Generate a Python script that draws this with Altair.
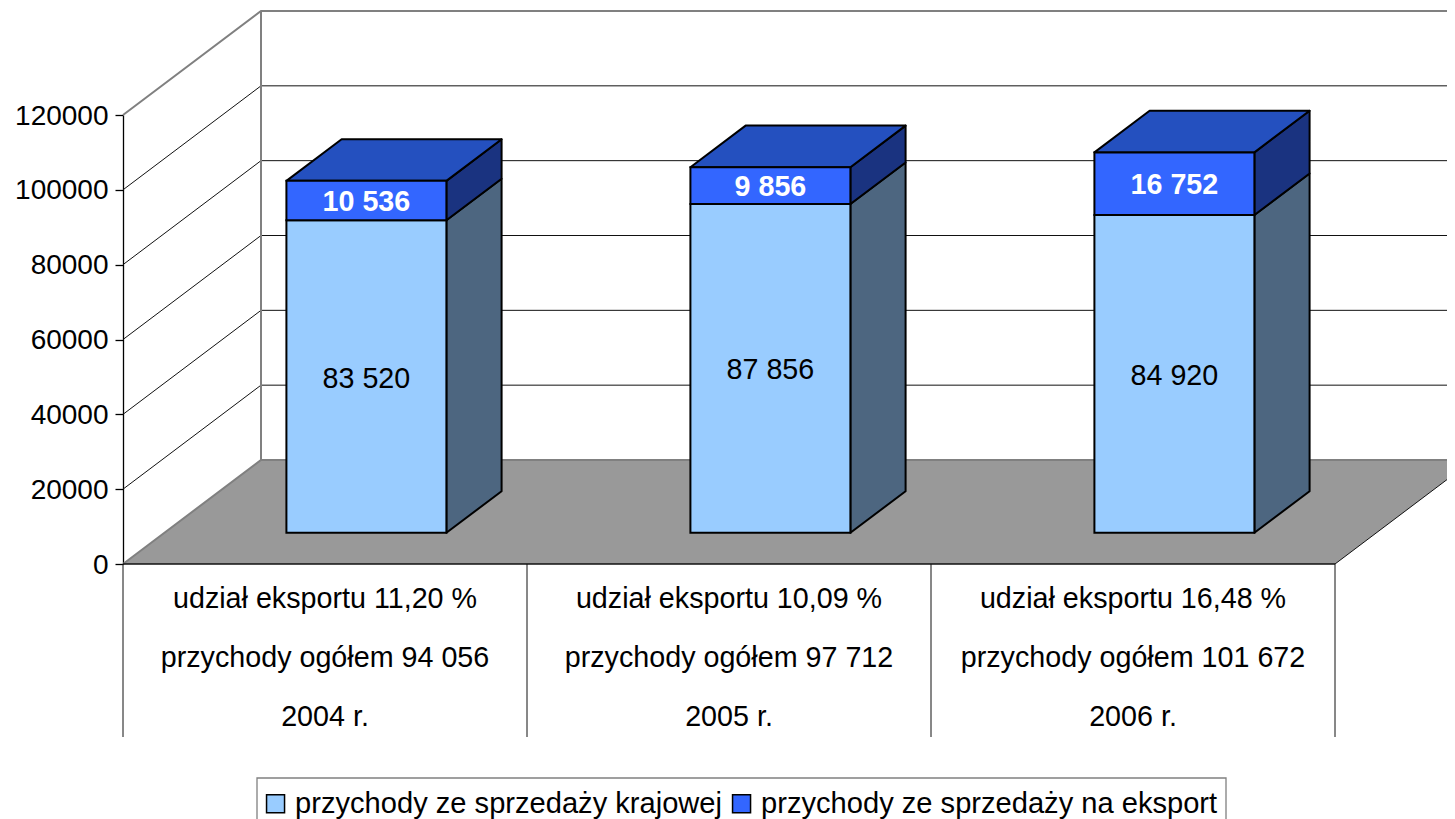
import altair as alt
import pandas as pd

YEARS = ["2004 r.", "2005 r.", "2006 r."]
TOTALS = ["przychody ogółem 94 056", "przychody ogółem 97 712", "przychody ogółem 101 672"]
SHARES = ["udział eksportu 11,20 %", "udział eksportu 10,09 %", "udział eksportu 16,48 %"]
DOMESTIC = [83520, 87856, 84920]
EXPORT = [10536, 9856, 16752]
DOMESTIC_LABELS = ["83 520", "87 856", "84 920"]
EXPORT_LABELS = ["10 536", "9 856", "16 752"]
SERIES = ["przychody ze sprzedaży krajowej", "przychody ze sprzedaży na eksport"]
COLORS = ["#99ccff", "#3366ff"]
TICKS = [0, 20000, 40000, 60000, 80000, 100000, 120000]

FONT = "Liberation Sans"
FS = 28.7
W, H = 1212, 449
DX = 138 / 404          # depth shift, in category units
DY = 104 * 120000 / 449 # depth shift, in value units
D0, D1 = 0.3, 0.7       # bars occupy this slice of the depth
BAR = 0.198             # half bar width
XS = alt.Scale(domain=[0, 3], nice=False, zero=False)
YS = alt.Scale(domain=[0, 120000], nice=False, zero=False)
X = lambda f="x": alt.X(f"{f}:Q", scale=XS, axis=None)
Y = lambda f="y": alt.Y(f"{f}:Q", scale=YS, stack=None, title=None)


def line(rows, color, width):
    df = pd.DataFrame(rows, columns=["id", "x", "y"])
    return alt.Chart(df).mark_line(color=color, strokeWidth=width, clip=False).encode(
        x=X(), y=Y(), detail="id:N", order="x:Q")


# axis (left, drawn through the value scale) comes first so that its settings win
axis = alt.Chart(pd.DataFrame({"y": TICKS})).mark_point(opacity=0).encode(
    y=alt.Y("y:Q", scale=YS, title=None, axis=alt.Axis(
        values=TICKS, format="d", title=None, grid=False, domainColor="black", tickColor="black",
        tickSize=8, labelFontSize=28, labelFont=FONT, labelColor="black", labelPadding=7, labelOffset=1,
        domainWidth=1.3, tickWidth=1.3)))

# floor
floor = alt.Chart(pd.DataFrame({
    "y": [0, DY], "x": [0, DX], "x2": [3, 3 + DX]
})).mark_area(orient="horizontal", fill="#999999").encode(y=Y(), x=X(), x2="x2:Q")

# walls and grid
grid_rows = []
for v in TICKS[1:-1]:
    grid_rows += [(f"s{v}", 0, v), (f"s{v}", DX, v + DY), (f"s{v}", DX, v + DY), (f"s{v}", 3 + DX, v + DY)]
grid = line(grid_rows, "#111111", 1)
wall = line([("a", 0, 120000), ("a", DX, 120000 + DY), ("a", 3 + DX, 120000 + DY),
             ("b", 0, 0), ("b", DX, DY), ("b", 3 + DX, DY)], "#808080", 2)
back = alt.Chart(pd.DataFrame({"x": [DX], "y": [DY], "y2": [120000 + DY]})).mark_rule(
    color="#808080", strokeWidth=2).encode(x=X(), y=Y(), y2="y2:Q")
right_edge = line([("r", 3, 0), ("r", 3 + DX, DY)], "#111111", 1)

# bars
side, top, front, labels_d, labels_e = {0: [], 1: []}, [], [], [], []
for i in range(3):
    xl, xr = i + 0.5 - BAR, i + 0.5 + BAR
    a, b, c = 0, DOMESTIC[i], DOMESTIC[i] + EXPORT[i]
    for s, (lo, hi) in enumerate([(a, b), (b, c)]):
        for d in (D0, D1):
            side[s].append({"id": i, "x": xr + d * DX, "y": lo + d * DY, "y2": hi + d * DY})
        front.append({"x": xl + D0 * DX, "x2": xr + D0 * DX, "y": lo + D0 * DY, "y2": hi + D0 * DY, "series": SERIES[s]})
    for d in (D0, D1):
        top.append({"id": i, "y": c + d * DY, "x": xl + d * DX, "x2": xr + d * DX})
    labels_d.append({"x": i + 0.5 + D0 * DX, "y": (a + b) / 2 + D0 * DY, "t": DOMESTIC_LABELS[i]})
    labels_e.append({"x": i + 0.5 + D0 * DX, "y": (b + c) / 2 + D0 * DY, "t": EXPORT_LABELS[i]})


def side_layer(rows, fill):
    return alt.Chart(pd.DataFrame(rows)).mark_area(
        orient="vertical", fill=fill, stroke="black", strokeWidth=2, strokeJoin="round"
    ).encode(x=X(), y=Y(), y2="y2:Q", detail="id:N")


side_d = side_layer(side[0], "#4d6680")
side_e = side_layer(side[1], "#1a3380")
top_f = alt.Chart(pd.DataFrame(top)).mark_area(
    orient="horizontal", fill="#2450bf", stroke="black", strokeWidth=2, strokeJoin="round"
).encode(y=Y(), x=X(), x2="x2:Q", detail="id:N")

front_f = alt.Chart(pd.DataFrame(front)).mark_rect(stroke="black", strokeWidth=2).encode(
    x=X(), x2="x2:Q", y=Y(), y2="y2:Q",
    fill=alt.Fill("series:N", scale=alt.Scale(domain=SERIES, range=COLORS), legend=alt.Legend(
        title=None, orient="none", legendX=138, legendY=674, direction="horizontal", columns=2,
        labelFont=FONT, labelFontSize=29.1, labelColor="black", symbolType="square", symbolSize=324,
        symbolStrokeColor="black", symbolStrokeWidth=1.5, symbolOpacity=1, labelOffset=5, columnPadding=5,
        padding=0, labelLimit=600)))

# frame around the legend (its lower edge lies past the picture)
legend_box = alt.Chart(pd.DataFrame({"k": [0]})).mark_rect(
    fill="white", stroke="#808080", strokeWidth=1.3
).encode(x=alt.value(134), x2=alt.value(1103), y=alt.value(663), y2=alt.value(720))

text_d = alt.Chart(pd.DataFrame(labels_d)).mark_text(
    font=FONT, fontSize=FS, color="black", baseline="middle", dy=2).encode(x=X(), y=Y(), text="t:N")
text_e = alt.Chart(pd.DataFrame(labels_e)).mark_text(
    font=FONT, fontSize=FS, color="white", fontWeight="bold", baseline="middle", dy=1).encode(x=X(), y=Y(), text="t:N")

# category table under the floor
table = alt.Chart(pd.DataFrame({"x": [0, 1, 2, 3]})).mark_rule(color="#111111", strokeWidth=1).encode(
    x=X(), y=alt.value(H), y2=alt.value(H + 173))
rows = []
for i in range(3):
    for row, t in enumerate([SHARES[i], TOTALS[i], YEARS[i]]):
        rows.append({"x": i + 0.5, "row": row, "t": t})
table_text = []
for row, py in zip(range(3), [H + 35, H + 94, H + 153]):
    table_text.append(alt.Chart(pd.DataFrame([r for r in rows if r["row"] == row])).mark_text(
        font=FONT, fontSize=FS, color="black", baseline="middle").encode(x=X(), y=alt.value(py), text="t:N"))
base_line = line([("f", 0, 0), ("f", 3, 0)], "#111111", 1.3)

chart = alt.layer(
    axis, floor, grid, back, wall, right_edge, side_d, side_e, top_f, front_f,
    text_d, text_e, table, base_line, legend_box, *table_text
).properties(
    width=W, height=H, autosize="none", background="white",
    padding={"left": 115, "top": 107, "right": 112, "bottom": 255}
).configure_view(strokeWidth=0)

chart.save("out.html", embed_options={"renderer": "svg", "actions": False})
